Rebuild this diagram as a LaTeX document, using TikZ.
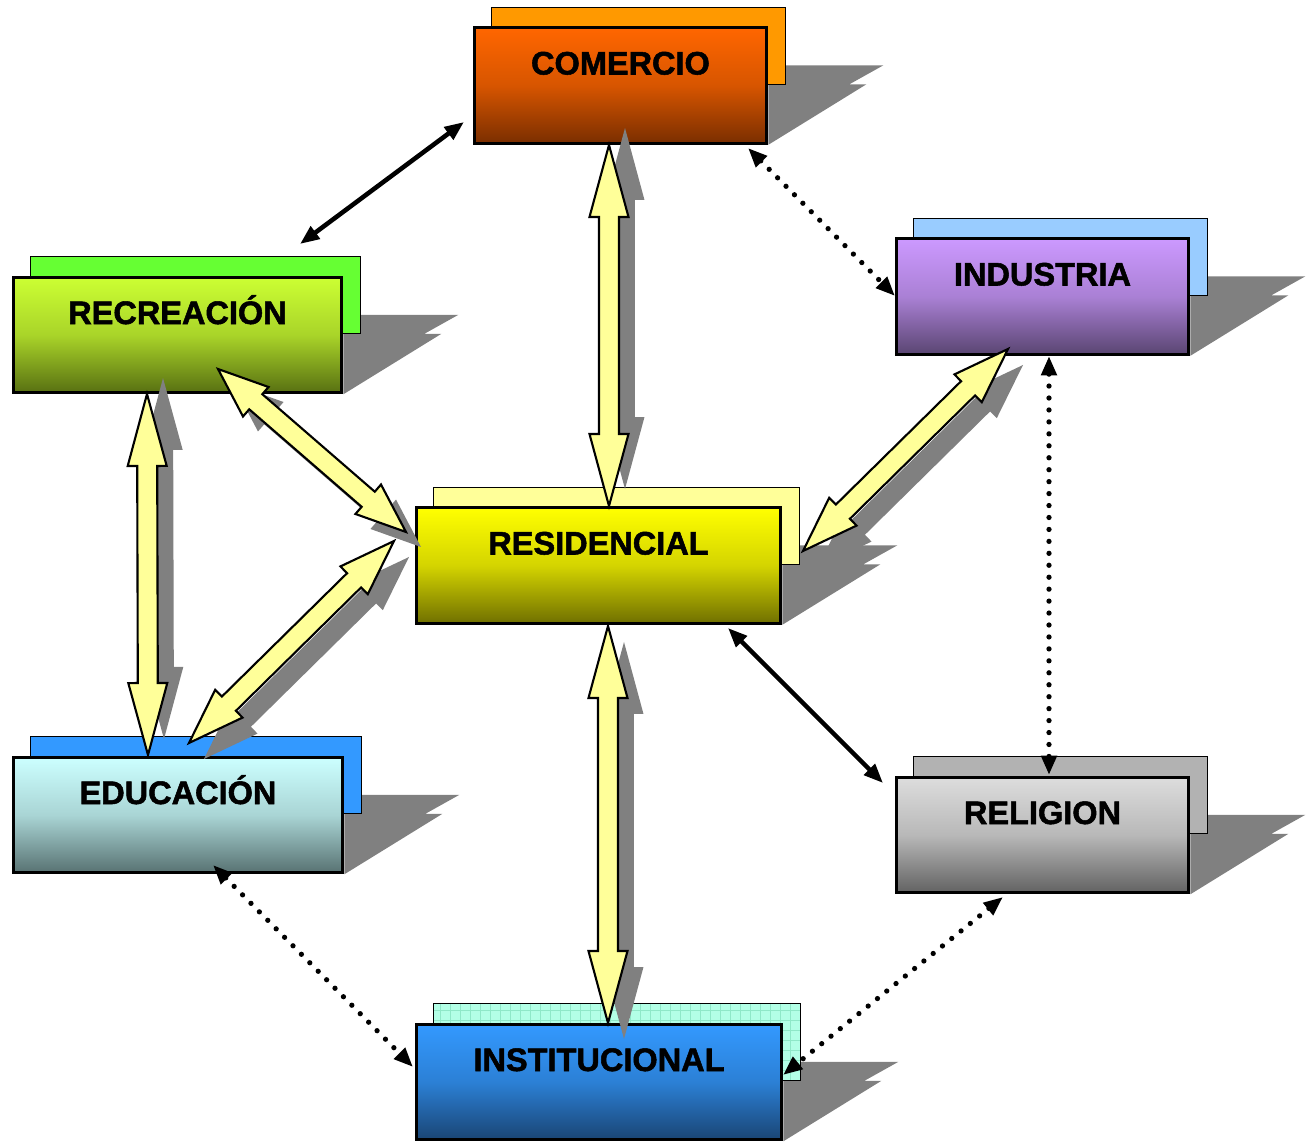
\documentclass[tikz,border=0pt]{standalone}
\usepackage{fontspec}
\setmainfont{Liberation Sans}
\newfontfamily\zonefont{Liberation Sans}[BoldFeatures={FakeBold=1.6}]
\usetikzlibrary{arrows.meta,calc,backgrounds}

\definecolor{shadowgray}{HTML}{808080}
\definecolor{paleyellow}{HTML}{FFFF99}
\definecolor{comtop}{HTML}{FF6600}
\definecolor{combot}{HTML}{7A2E00}
\definecolor{comback}{HTML}{FF9900}
\definecolor{rectop}{HTML}{CCFF33}
\definecolor{recbot}{HTML}{587012}
\definecolor{recback}{HTML}{66FF33}
\definecolor{indtop}{HTML}{CC99FF}
\definecolor{indbot}{HTML}{5A4672}
\definecolor{indback}{HTML}{99CCFF}
\definecolor{restop}{HTML}{FFFF00}
\definecolor{resbot}{HTML}{707000}
\definecolor{resback}{HTML}{FFFF99}
\definecolor{edutop}{HTML}{CCFFFF}
\definecolor{edubot}{HTML}{587272}
\definecolor{eduback}{HTML}{3399FF}
\definecolor{reltop}{HTML}{DDDDDD}
\definecolor{relbot}{HTML}{626262}
\definecolor{relback}{HTML}{B2B2B2}
\definecolor{instop}{HTML}{3399FF}
\definecolor{insbot}{HTML}{1A4574}
\definecolor{insback}{HTML}{B3FFE6}
\definecolor{gridline}{HTML}{8FE8C8}

% wide two-headed arrow: options, start, end, head length
\newcommand{\widearrow}[4][]{%
  \path ($(#2)!#4!(#3)$) coordinate (h1) ($(#3)!#4!(#2)$) coordinate (h2);
  \path[#1] (#2) -- ($(h1)!0.39cm!90:(#3)$) -- ($(h1)!0.2cm!90:(#3)$)
    -- ($(h2)!0.2cm!-90:(#2)$) -- ($(h2)!0.39cm!-90:(#2)$) -- (#3)
    -- ($(h2)!0.39cm!90:(#2)$) -- ($(h2)!0.2cm!90:(#2)$)
    -- ($(h1)!0.2cm!-90:(#3)$) -- ($(h1)!0.39cm!-90:(#3)$) -- cycle;}

\begin{document}
\begin{tikzpicture}[x=0.02cm, y=-0.02cm,
  zone/.style={draw, line width=1.7pt, minimum height=2.31cm, inner sep=0pt,
    text height=0.46cm, text depth=0.9cm,
    font=\zonefont\fontsize{18.5}{20}\selectfont\bfseries},
  grad/.style n args={2}{top color=#1, bottom color=#2, middle color=#1!70!#2},
  backcard/.style={draw, line width=0.8pt},
  drop/.style={fill=shadowgray},
  fat/.style={fill=paleyellow, draw, line width=1.2pt, line join=miter},
  fatshadow/.style={fill=shadowgray},
  link/.style={line width=2.6pt,
    {Triangle[length=11pt,width=8.5pt]}-{Triangle[length=11pt,width=8.5pt]}},
  dots/.style={link, line width=3pt, line cap=round, dash pattern=on 0pt off 6.8pt}
]
\useasboundingbox (0,0) rectangle (1313,1142);

% zones
\node[zone, grad={comtop}{combot}, minimum width=5.86cm] (com) at (620.5,85.5) {COMERCIO};
\node[zone, grad={rectop}{recbot}, minimum width=6.58cm] (rec) at (177.5,335) {RECREACIÓN};
\node[zone, grad={indtop}{indbot}, minimum width=5.86cm] (ind) at (1042.5,296.5) {INDUSTRIA};
\node[zone, grad={restop}{resbot}, minimum width=7.30cm] (res) at (598.5,565.5) {RESIDENCIAL};
\node[zone, grad={edutop}{edubot}, minimum width=6.60cm] (edu) at (178,815) {EDUCACIÓN};
\node[zone, grad={reltop}{relbot}, minimum width=5.86cm] (rel) at (1042.5,835) {RELIGION};
\node[zone, grad={instop}{insbot}, minimum width=7.32cm] (ins) at (599,1082) {INSTITUCIONAL};

% back cards and shadows
\begin{scope}[on background layer]
  \foreach \n/\c in {com/comback, rec/recback, ind/indback, res/resback,
                     edu/eduback, rel/relback, ins/insback} {
    \fill[drop] (\n.north east) ++(0,39) -- ++(115,0) -- ++(-34,19) -- ++(17,0)
      -- (\n.south east) -- cycle;
    \draw[backcard, fill=\c] ([shift={(19,-19)}]\n.north west)
      rectangle ([shift={(17,58)}]\n.north east);
  }
  \draw[gridline, line width=0.3pt, step=0.2cm] ([shift={(19,-19)}]ins.north west)
    grid ([shift={(17,58)}]ins.north east);
  \draw[backcard] ([shift={(19,-19)}]ins.north west)
    rectangle ([shift={(17,58)}]ins.north east);
\end{scope}

% wide arrows
\coordinate (comB) at (609,145);  \coordinate (resT) at (609,506);
\coordinate (recB) at (147,394);  \coordinate (eduT) at (148,755);
\coordinate (recSE) at (218,369); \coordinate (resW) at (406,532);
\coordinate (eduNE) at (189,743); \coordinate (resSW) at (394,541);
\coordinate (indSW) at (1008,349); \coordinate (resE) at (803,551);
\coordinate (resB) at (608,626);  \coordinate (insT) at (608,1023);

\widearrow[fatshadow, transform canvas={xshift=0.32cm, yshift=0.34cm}]{comB}{resT}{1.44cm}
\widearrow[fatshadow, transform canvas={xshift=0.32cm, yshift=0.32cm}]{recB}{eduT}{1.44cm}
\widearrow[fatshadow, transform canvas={xshift=0.3cm, yshift=-0.3cm}]{recSE}{resW}{1.0cm}
\widearrow[fatshadow, transform canvas={xshift=0.3cm, yshift=-0.32cm}]{eduNE}{resSW}{1.12cm}
\widearrow[fatshadow, transform canvas={xshift=0.3cm, yshift=-0.32cm}]{indSW}{resE}{1.12cm}
\widearrow[fatshadow, transform canvas={xshift=0.32cm, yshift=-0.32cm}]{resB}{insT}{1.44cm}

\widearrow[fat]{comB}{resT}{1.44cm}
\widearrow[fat]{recB}{eduT}{1.44cm}
\widearrow[fat]{recSE}{resW}{1.0cm}
\widearrow[fat]{eduNE}{resSW}{1.12cm}
\widearrow[fat]{indSW}{resE}{1.12cm}
\widearrow[fat]{resB}{insT}{1.44cm}

% thin links
\coordinate (recN) at (300,244);  \coordinate (comW) at (464,122);
\coordinate (comSE) at (748,148); \coordinate (indW) at (895,296);
\coordinate (indS) at (1049,356); \coordinate (relN) at (1049,775);
\coordinate (resSE) at (728,628); \coordinate (relW) at (883,783);
\coordinate (eduS) at (213,865);  \coordinate (insW) at (413,1067);
\coordinate (relS) at (1003,897); \coordinate (insE) at (783,1075);

\draw[link] (recN) -- (comW);
\draw[link] (resSE) -- (relW);
\draw[dots] (comSE) -- (indW);
\draw[dots] (indS) -- (relN);
\draw[dots] (eduS) -- (insW);
\draw[dots] (relS) -- (insE);
\end{tikzpicture}
\end{document}
